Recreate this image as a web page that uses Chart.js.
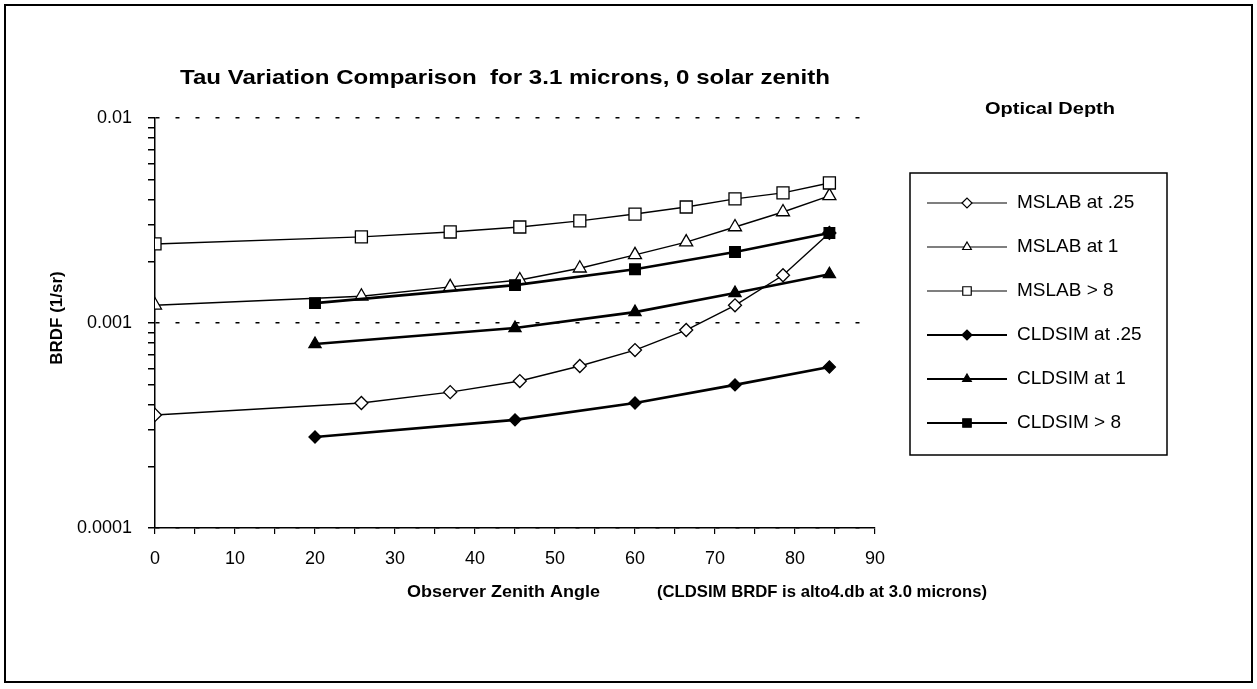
<!DOCTYPE html>
<html>
<head>
<meta charset="utf-8">
<script src="https://cdn.jsdelivr.net/npm/chart.js@4.4.0/dist/chart.umd.min.js"></script>
<style>
  html, body { margin: 0; padding: 0; background: #fff; }
  canvas { display: block; }
</style>
</head>
<body>
<canvas id="brdfChart" width="1257" height="689"></canvas>
<script>
// Observer zenith angles (deg)
var mslabAngles = [0, 25.8, 36.9, 45.6, 53.1, 60, 66.4, 72.5, 78.5, 84.3];
var cldsimAngles = [20, 45, 60, 72.5, 84.3];

// BRDF (1/sr)
var mslab025 = [0.000356, 0.000407, 0.000460, 0.000521, 0.000617, 0.000738, 0.000924, 0.00122, 0.00171, 0.00275];
var mslab1 = [0.00122, 0.00135, 0.00150, 0.00162, 0.00185, 0.00215, 0.00248, 0.00294, 0.00348, 0.00417];
var mslab8 = [0.00243, 0.00263, 0.00278, 0.00294, 0.00315, 0.00340, 0.00368, 0.00403, 0.00431, 0.00482];
var cldsim025 = [0.000278, 0.000337, 0.000407, 0.000499, 0.000610];
var cldsim1 = [0.000790, 0.000945, 0.00113, 0.00140, 0.00173];
var cldsim8 = [0.00125, 0.00153, 0.00183, 0.00222, 0.00275];

var seriesNames = ["MSLAB at .25", "MSLAB at 1", "MSLAB > 8", "CLDSIM at .25", "CLDSIM at 1", "CLDSIM > 8"];
var yTickValues = [0.0001, 0.001, 0.01];
var yTickLabels = ["0.0001", "0.001", "0.01"];

var FONT = "'Liberation Sans', Arial, sans-serif";

function toPoints(xs, ys) {
  var pts = [];
  for (var i = 0; i < xs.length; i++) pts.push({ x: xs[i], y: ys[i] });
  return pts;
}

function isDecade(v) {
  var l = Math.log10(v);
  return Math.abs(l - Math.round(l)) < 1e-6;
}

function makeSet(label, xs, ys, style, radius, filled, width) {
  return {
    label: label,
    data: toPoints(xs, ys),
    borderColor: "#000",
    backgroundColor: filled ? "#000" : "#fff",
    borderWidth: width,
    pointStyle: style,
    pointRadius: radius,
    pointBorderWidth: 1.3,
    pointBackgroundColor: filled ? "#000" : "#fff",
    pointBorderColor: "#000",
    tension: 0,
    fill: false
  };
}

var datasets = [
  makeSet(seriesNames[5], cldsimAngles, cldsim8, "rect", 7.5, true, 2.6),
  makeSet(seriesNames[4], cldsimAngles, cldsim1, "triangle", 7, true, 2.6),
  makeSet(seriesNames[3], cldsimAngles, cldsim025, "rectRot", 6, true, 2.6),
  makeSet(seriesNames[2], mslabAngles, mslab8, "rect", 8.5, false, 1.4),
  makeSet(seriesNames[1], mslabAngles, mslab1, "triangle", 7.5, false, 1.4),
  makeSet(seriesNames[0], mslabAngles, mslab025, "rectRot", 6.5, false, 1.4)
];

// legend order as in the reference
var legendOrder = [5, 4, 3, 2, 1, 0];

// draw text squeezed/stretched to a given width (scanned fonts are wide)
function fitText(ctx, text, x, y, width) {
  var w = ctx.measureText(text).width;
  ctx.save();
  ctx.translate(x, y);
  ctx.scale(width / w, 1);
  ctx.fillText(text, 0, 0);
  ctx.restore();
}

var textPlugin = {
  id: "texts",
  afterDraw: function(chart) {
    var ctx = chart.ctx;
    ctx.save();
    ctx.fillStyle = "#000";
    ctx.strokeStyle = "#000";

    // outer frame
    ctx.lineWidth = 2;
    ctx.strokeRect(5, 5, 1247, 677);

    // title
    ctx.font = "bold 21px " + FONT;
    ctx.textBaseline = "middle";
    ctx.textAlign = "left";
    fitText(ctx, "Tau Variation Comparison  for 3.1 microns, 0 solar zenith", 180, 78, 650);

    ctx.font = "bold 16px " + FONT;
    fitText(ctx, "Optical Depth", 985, 110, 130);

    // axis titles
    ctx.font = "bold 17px " + FONT;
    fitText(ctx, "Observer Zenith Angle", 407, 592, 193);
    ctx.font = "bold 17px " + FONT;
    fitText(ctx, "(CLDSIM BRDF is alto4.db at 3.0 microns)", 657, 592, 330);

    ctx.save();
    ctx.translate(57, 318);
    ctx.rotate(-Math.PI / 2);
    ctx.textAlign = "center";
    ctx.font = "bold 17px " + FONT;
    ctx.fillText("BRDF (1/sr)", 0, 0);
    ctx.restore();

    // legend box
    ctx.lineWidth = 1.5;
    ctx.strokeRect(910, 173, 257, 282);
    ctx.font = "19px " + FONT;
    for (var i = 0; i < legendOrder.length; i++) {
      var ds = chart.data.datasets[legendOrder[i]];
      var y = 203 + i * 44;
      ctx.lineWidth = ds.borderWidth > 2 ? 2.2 : 1.2;
      ctx.beginPath();
      ctx.moveTo(927, y);
      ctx.lineTo(1007, y);
      ctx.stroke();
      ctx.fillStyle = ds.pointBackgroundColor;
      ctx.lineWidth = 1.2;
      Chart.helpers.drawPoint(ctx, {
        pointStyle: ds.pointStyle,
        radius: ds.pointStyle === "rect" ? 6 : 5,
        borderWidth: 1.2,
        rotation: 0
      }, 967, y);
      ctx.fillStyle = "#000";
      ctx.fillText(ds.label, 1017, y);
    }
    ctx.restore();
  }
};

new Chart(document.getElementById("brdfChart").getContext("2d"), {
  type: "line",
  data: { datasets: datasets },
  options: {
    responsive: false,
    animation: false,
    layout: { padding: { top: 118, right: 382, bottom: 0, left: 0 } },
    plugins: {
      legend: { display: false },
      title: { display: false },
      tooltip: { enabled: false }
    },
    scales: {
      x: {
        type: "linear",
        min: 0,
        max: 90,
        ticks: {
          stepSize: 5,
          autoSkip: false,
          maxRotation: 0,
          padding: 14,
          color: "#000",
          font: { family: FONT, size: 18 },
          callback: function(v) { return v % 10 === 0 ? String(v) : ""; }
        },
        grid: { drawOnChartArea: false, color: "#000", tickLength: 6, lineWidth: 1.2 },
        border: { color: "#000", width: 1.5 },
        afterFit: function(scale) { scale.height = 689 - 528; }
      },
      y: {
        type: "logarithmic",
        min: 0.0001,
        max: 0.01,
        afterBuildTicks: function(scale) {
          var ticks = [];
          for (var d = 0; d < yTickValues.length - 1; d++) {
            for (var k = 1; k < 10; k++) ticks.push({ value: k * yTickValues[d] });
          }
          ticks.push({ value: yTickValues[yTickValues.length - 1] });
          scale.ticks = ticks;
        },
        ticks: {
          autoSkip: false,
          padding: 16,
          color: "#000",
          font: { family: FONT, size: 18 },
          callback: function(v) {
            var idx = -1;
            for (var i = 0; i < yTickValues.length; i++) {
              if (Math.abs(v - yTickValues[i]) < yTickValues[i] * 1e-6) idx = i;
            }
            return idx >= 0 ? yTickLabels[idx] : "";
          }
        },
        grid: {
          color: function(c) {
            return c.tick && isDecade(c.tick.value) ? "#000" : "rgba(0,0,0,0)";
          },
          tickColor: "#000",
          lineWidth: 1.5,
          tickLength: 7
        },
        border: { color: "#000", width: 1.5, dash: [4, 16] },
        afterFit: function(scale) { scale.width = 155; }
      }
    }
  },
  plugins: [textPlugin]
});
</script>
</body>
</html>
